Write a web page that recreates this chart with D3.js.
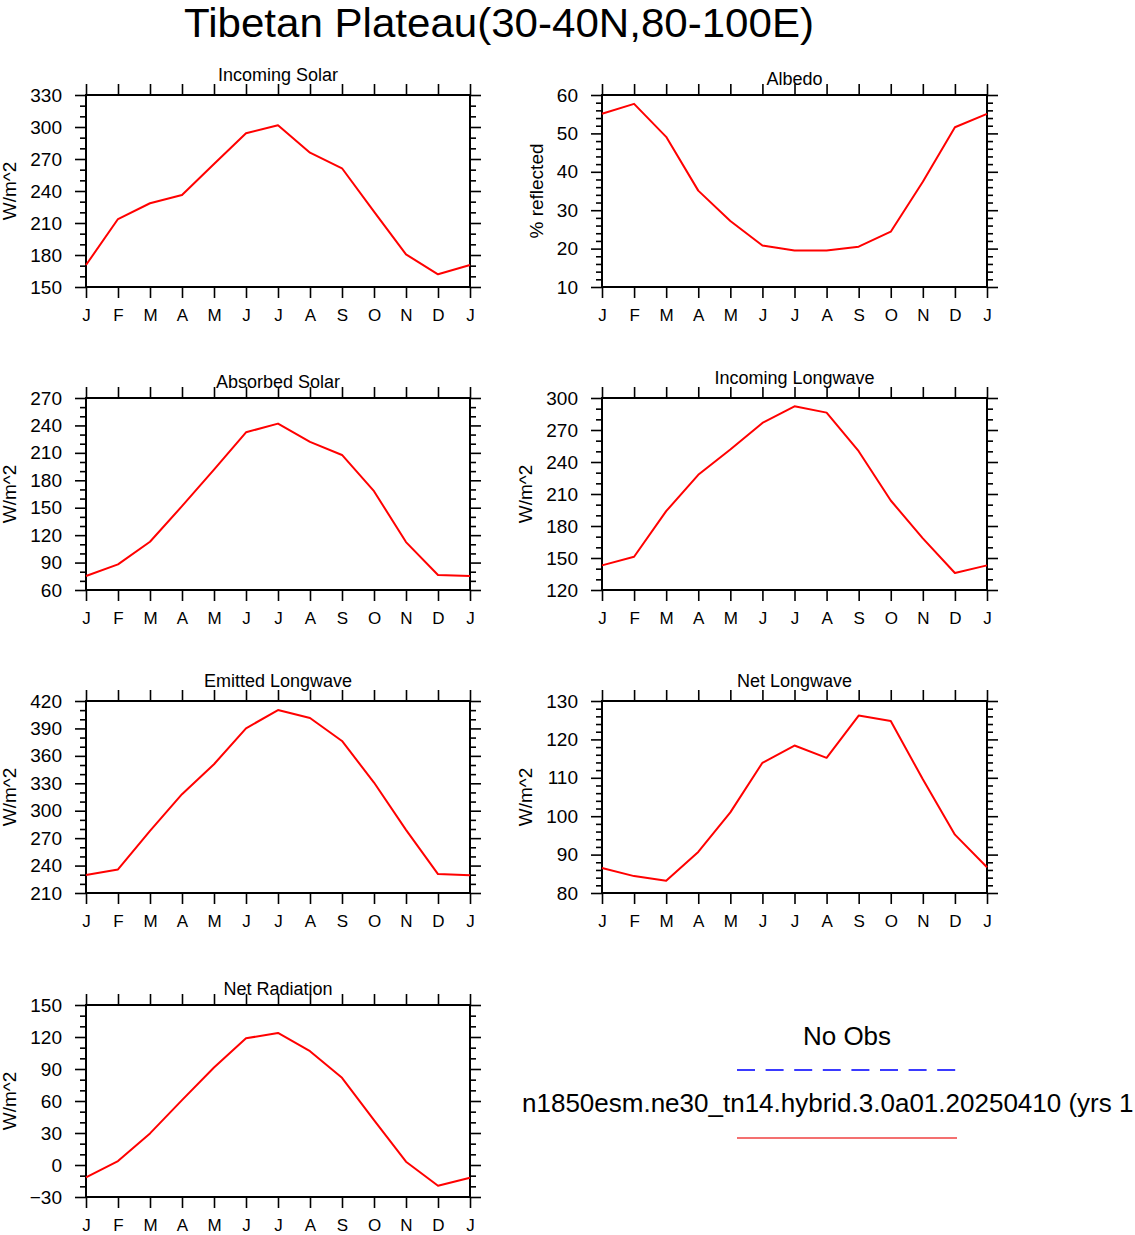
<!DOCTYPE html>
<html><head><meta charset="utf-8">
<script src="https://cdn.jsdelivr.net/npm/d3@7"></script>
<style>
body{margin:0;background:#fff}
text{font-family:"Liberation Sans",Arial,Helvetica,sans-serif;fill:#000}
</style>
</head><body>
<svg id="c" width="1135" height="1235" xmlns="http://www.w3.org/2000/svg"></svg>
<script>
// ---- data ----
const months = ["J","F","M","A","M","J","J","A","S","O","N","D","J"];

const incomingSolar = [170.6,213.7,228.5,236.2,265.3,294.1,301.6,275.9,261.3,220.6,180.6,161.9,170.6];
const albedo        = [55.1,57.7,49.1,35.1,27.2,20.8,19.5,19.5,20.5,24.4,37.4,51.6,55.1];
const absorbedSolar = [75.3,88.0,112.8,151.7,191.7,232.5,242.0,222.0,207.7,168.1,112.4,76.4,75.3];
const incomingLW    = [143.1,151.2,193.9,228.0,251.7,276.6,292.2,286.3,250.1,203.9,168.4,135.9,143.1];
const emittedLW     = [229.7,235.8,278.0,318.1,350.8,390.1,410.1,401.4,376.3,330.8,279.1,230.7,229.3];
const netLW         = [86.5,84.4,83.2,90.7,101.0,113.9,118.4,115.2,126.2,124.8,109.6,95.2,86.7];
const netRad        = [-11.6,3.7,29.6,60.8,91.4,118.8,123.8,106.7,81.7,42.1,3.1,-19.4,-11.9];

const incomingSolarTicks = [150,180,210,240,270,300,330];
const albedoTicks        = [10,20,30,40,50,60];
const absorbedSolarTicks = [60,90,120,150,180,210,240,270];
const incomingLWTicks    = [120,150,180,210,240,270,300];
const emittedLWTicks     = [210,240,270,300,330,360,390,420];
const netLWTicks         = [80,90,100,110,120,130];
const netRadTicks        = [-30,0,30,60,90,120,150];

const panelTitles = ["Incoming Solar","Albedo","Absorbed Solar","Incoming Longwave","Emitted Longwave","Net Longwave","Net Radiation"];
const yTitles = ["W/m^2","% reflected","W/m^2","W/m^2","W/m^2","W/m^2","W/m^2"];
const mainTitle = "Tibetan Plateau(30-40N,80-100E)";
const legendLabels = ["No Obs","n1850esm.ne30_tn14.hybrid.3.0a01.20250410 (yrs 1"];

// ---- layout ----
const panels = [
  {v:incomingSolar, t:incomingSolarTicks, minor:10},
  {v:albedo, t:albedoTicks, minor:2},
  {v:absorbedSolar, t:absorbedSolarTicks, minor:10},
  {v:incomingLW, t:incomingLWTicks, minor:10},
  {v:emittedLW, t:emittedLWTicks, minor:10},
  {v:netLW, t:netLWTicks, minor:2},
  {v:netRad, t:netRadTicks, minor:10}
];
const colX = [86, 602], colW = [384, 385];
const rowY = [95, 398, 701, 1005], H = 192;
const svg = d3.select("#c");

svg.append("text").attr("x",499).attr("y",36.5).attr("text-anchor","middle")
  .attr("font-size",40).attr("textLength",630).attr("lengthAdjust","spacingAndGlyphs")
  .text(mainTitle);

panels.forEach((p,i)=>{
  const col = i%2, row = Math.floor(i/2);
  const x0 = colX[col], w = colW[col], y0 = rowY[row];
  const lo = d3.min(p.t), hi = d3.max(p.t);
  const x = d3.scaleLinear().domain([0,12]).range([x0, x0+w]);
  const y = d3.scaleLinear().domain([lo,hi]).range([y0+H, y0]);
  const g = svg.append("g");
  const minors = d3.range(lo, hi+1e-9, p.minor).filter(v=>!p.t.some(m=>Math.abs(m-v)<1e-9));
  const idx = d3.range(13);

  function style(sel){
    sel.select(".domain").remove();
    sel.selectAll("line").attr("stroke","#000").attr("stroke-width",1.6);
  }
  // x axes
  const gb = g.append("g").attr("transform",`translate(0,${y0+H})`)
    .call(d3.axisBottom(x).tickValues(idx).tickSize(11).tickSizeOuter(0).tickFormat(d=>months[d]));
  style(gb);
  gb.selectAll("text").attr("y",34).attr("dy",0).attr("font-size",17).attr("font-family",null);
  const gt = g.append("g").attr("transform",`translate(0,${y0})`)
    .call(d3.axisTop(x).tickValues(idx).tickSize(11).tickSizeOuter(0).tickFormat(""));
  style(gt);
  // y axes
  const gl = g.append("g").attr("transform",`translate(${x0},0)`)
    .call(d3.axisLeft(y).tickValues(p.t).tickSize(11).tickPadding(13).tickSizeOuter(0).tickFormat(d3.format("d")));
  style(gl);
  gl.selectAll("text").attr("font-size",19).attr("font-family",null);
  const glm = g.append("g").attr("transform",`translate(${x0},0)`)
    .call(d3.axisLeft(y).tickValues(minors).tickSize(6).tickSizeOuter(0).tickFormat(""));
  style(glm);
  const gr = g.append("g").attr("transform",`translate(${x0+w},0)`)
    .call(d3.axisRight(y).tickValues(p.t).tickSize(11).tickSizeOuter(0).tickFormat(""));
  style(gr);
  const grm = g.append("g").attr("transform",`translate(${x0+w},0)`)
    .call(d3.axisRight(y).tickValues(minors).tickSize(6).tickSizeOuter(0).tickFormat(""));
  style(grm);
  // frame
  g.append("rect").attr("x",x0).attr("y",y0).attr("width",w).attr("height",H)
    .attr("fill","none").attr("stroke","#000").attr("stroke-width",2);
  // line
  g.append("path").datum(p.v)
    .attr("d", d3.line().x((d,k)=>x(k)).y(d=>y(d)))
    .attr("fill","none").attr("stroke","#ff0000").attr("stroke-width",2)
    .attr("stroke-linejoin","round");
  // panel title
  const tt = panelTitles[i];
  const off = /[gjpqy]/.test(tt) ? 14 : 10.5;
  g.append("text").attr("x",x0+w/2).attr("y",y0-off).attr("text-anchor","middle")
    .attr("font-size",18).text(tt);
  // y title
  let maxW = 0;
  gl.selectAll("text").each(function(){ maxW = Math.max(maxW, this.getComputedTextLength()); });
  const bx = x0 - 24 - maxW - 14;
  g.append("text").attr("transform",`translate(${bx},${y0+H/2}) rotate(-90)`)
    .attr("text-anchor","middle").attr("font-size",19).text(yTitles[i]);
});

// legend
svg.append("text").attr("x",847).attr("y",1045).attr("text-anchor","middle")
  .attr("font-size",26).text(legendLabels[0]);
svg.append("line").attr("x1",737).attr("x2",957).attr("y1",1070).attr("y2",1070)
  .attr("stroke","#3a3aff").attr("stroke-width",2).attr("stroke-dasharray","18,10.6");
svg.append("text").attr("x",522).attr("y",1112).attr("font-size",26).text(legendLabels[1]);
svg.append("line").attr("x1",737).attr("x2",957).attr("y1",1138).attr("y2",1138)
  .attr("stroke","#f04040").attr("stroke-width",1.5);
</script>
</body></html>
